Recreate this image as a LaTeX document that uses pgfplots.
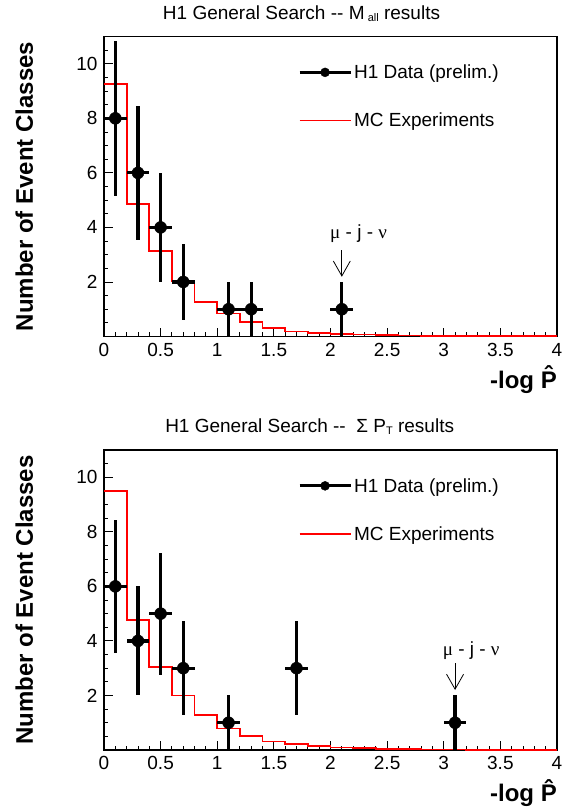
\documentclass[border=0pt]{standalone}
\usepackage{fontspec}
\setmainfont{Liberation Sans}
\newfontfamily\symf{Liberation Serif}
\usepackage{pgfplots}
\usepackage{pgfplotstable}
\pgfplotsset{compat=1.18}
\usetikzlibrary{arrows.meta}

% data points: x, y, half bin width, sqrt(N)
\pgfplotstableread{
x   y  ex   ey
0.1 8  0.1  2.83
0.3 6  0.1  2.45
0.5 4  0.1  2.00
0.7 2  0.1  1.41
1.1 1  0.1  1.00
1.3 1  0.1  1.00
2.1 1  0.1  1.00
}\dataMall

\pgfplotstableread{
x   y  ex   ey
0.1 6  0.1  2.45
0.3 4  0.1  2.00
0.5 5  0.1  2.24
0.7 3  0.1  1.73
1.1 1  0.1  1.00
1.7 3  0.1  1.73
3.1 1  0.1  1.00
}\dataSumPt

% MC expectation, left bin edges
\pgfplotstableread{
x   y
0.0 9.27
0.2 4.87
0.4 3.14
0.6 2.02
0.8 1.26
1.0 0.84
1.2 0.54
1.4 0.32
1.6 0.18
1.8 0.13
2.0 0.09
2.2 0.07
2.4 0.05
2.6 0.04
2.8 0.03
3.0 0.02
3.2 0.02
3.4 0.01
3.6 0.01
3.8 0.01
4.0 0.01
}\mcMall

\pgfplotstableread{
x   y
0.0 9.51
0.2 4.76
0.4 3.03
0.6 2.00
0.8 1.29
1.0 0.79
1.2 0.52
1.4 0.31
1.6 0.21
1.8 0.15
2.0 0.09
2.2 0.07
2.4 0.05
2.6 0.03
2.8 0.02
3.0 0.02
3.2 0.01
3.4 0.01
3.6 0.01
3.8 0.01
4.0 0.01
}\mcSumPt

\pgfplotsset{
  hone/.style={
    scale only axis, width=453pt, height=300pt,
    xmin=0, xmax=4, ymin=0, ymax=11,
    clip=false,
    xtick={0,0.5,...,4}, ytick={2,4,...,10},
    minor xtick={0,0.1,...,4}, minor ytick={0,0.5,...,11},
    xtick pos=bottom, ytick pos=left, tick align=inside,
    major tick length=9pt, minor tick length=4.5pt,
    every tick/.style={black, line width=0.9pt},
    axis line style={line width=1.2pt},
    /pgf/number format/assume math mode=true,
    tick label style={font=\fontsize{19}{21}\selectfont},
    xticklabel style={yshift=-3pt},
    yticklabel style={xshift=-3pt},
    xlabel={-log \^{P}},
    xlabel style={font=\fontsize{24}{26}\selectfont\bfseries,
      at={(axis description cs:1,0)}, anchor=base east, yshift=-51.5pt, inner sep=0pt},
    ylabel={Number of Event Classes},
    ylabel style={font=\fontsize{24}{26}\selectfont\bfseries,
      at={(axis description cs:-0.157,0.5)}, anchor=base, inner sep=0pt},
    title style={font=\fontsize{19}{21}\selectfont, anchor=base, inner sep=0pt, yshift=11.5pt},
    legend style={draw=none, fill=none, at={(axis description cs:0.428,0.80)}, anchor=west,
      font=\fontsize{19}{21}\selectfont, row sep=29pt, inner sep=0pt,
      /tikz/every even column/.append style={column sep=6pt}},
    legend cell align=left,
  },
  datapts/.style={black, only marks, mark=*, mark size=6pt,
    mark options={fill=black, draw=black, line width=0.4pt},
    error bars/.cd, x dir=both, x explicit, y dir=both, y explicit,
    error mark=none, error bar style={line width=3.2pt, black}},
  mchist/.style={red, line width=1.8pt, const plot mark left, no marks},
}

\begin{document}
\begin{tikzpicture}

\begin{axis}[hone, at={(0pt,0pt)}, anchor=south west,
  title={H1 General Search -{}- M\,{\fontsize{11}{12}\selectfont\raisebox{-0.45ex}{all}} results},
  title style={at={(axis description cs:0.436,1)}}]
  \addlegendimage{legend image code/.code={
    \draw[black, line width=3pt] (0pt,0pt) -- (51pt,0pt);
    \fill[black] (25.5pt,0pt) circle (4.5pt);}}
  \addlegendentry{H1 Data (prelim.)}
  \addlegendimage{legend image code/.code={
    \draw[red, line width=1.7pt] (0pt,0pt) -- (51pt,0pt);}}
  \addlegendentry{MC Experiments}
  \addplot[forget plot, mchist] table[x=x, y=y] {\mcMall};
  \addplot[forget plot, datapts] table[x=x, y=y, x error=ex, y error=ey] {\dataMall};
  \node[anchor=base west, inner sep=0pt, font=\fontsize{19}{21}\selectfont]
    at (axis cs:1.996,3.61) {{\symf μ} - j - {\symf ν}};
  \draw[-{Straight Barb[length=15pt, width=17pt]}, line width=0.8pt]
    (axis cs:2.1,3.17) -- (axis cs:2.1,2.19);
\end{axis}

\begin{axis}[hone, at={(0pt,-413.5pt)}, anchor=south west,
  title={H1 General Search -{}- \ Σ P{\fontsize{11}{12}\selectfont\raisebox{-0.45ex}{T}} results},
  title style={at={(axis description cs:0.454,1)}, yshift=0.5pt}]
  \addlegendimage{legend image code/.code={
    \draw[black, line width=3pt] (0pt,0pt) -- (51pt,0pt);
    \fill[black] (25.5pt,0pt) circle (4.5pt);}}
  \addlegendentry{H1 Data (prelim.)}
  \addlegendimage{legend image code/.code={
    \draw[red, line width=1.7pt] (0pt,0pt) -- (51pt,0pt);}}
  \addlegendentry{MC Experiments}
  \addplot[forget plot, mchist] table[x=x, y=y] {\mcSumPt};
  \addplot[forget plot, datapts] table[x=x, y=y, x error=ex, y error=ey] {\dataSumPt};
  \node[anchor=base west, inner sep=0pt, font=\fontsize{19}{21}\selectfont]
    at (axis cs:2.99,3.48) {{\symf μ} - j - {\symf ν}};
  \draw[-{Straight Barb[length=15pt, width=17pt]}, line width=0.8pt]
    (axis cs:3.1,3.19) -- (axis cs:3.1,2.2);
\end{axis}

\pgfresetboundingbox
\path[use as bounding box] (-104pt,-475.5pt) rectangle (464pt,336.5pt);
\end{tikzpicture}
\end{document}
